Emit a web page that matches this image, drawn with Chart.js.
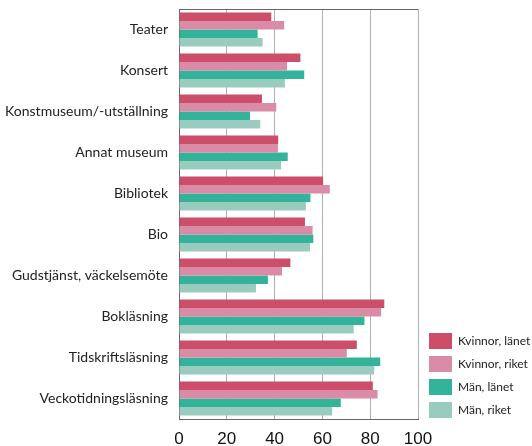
<!DOCTYPE html>
<html>
<head>
<meta charset="utf-8">
<script src="https://cdn.jsdelivr.net/npm/chart.js@4"></script>
<style>
  html, body { margin: 0; padding: 0; background: #fff; }
  #wrap { width: 532px; height: 446px; position: relative; }
</style>
</head>
<body>
<div id="wrap"><canvas id="chart"></canvas></div>
<script>
const categories = ['Teater', 'Konsert', 'Konstmuseum/-utställning', 'Annat museum', 'Bibliotek',
    'Bio', 'Gudstjänst, väckelsemöte', 'Bokläsning', 'Tidskriftsläsning', 'Veckotidningsläsning'];
const kvinnorLanet = [38.6, 50.8, 34.7, 41.5, 60.3, 52.7, 46.6, 85.9, 74.4, 81.1];
const kvinnorRiket = [44.0, 45.2, 40.7, 41.4, 63.1, 55.9, 43.1, 84.6, 70.2, 83.1];
const manLanet = [32.9, 52.4, 29.7, 45.5, 55.0, 56.2, 37.2, 77.6, 84.2, 67.7];
const manRiket = [35.0, 44.3, 34.0, 42.7, 53.1, 54.8, 32.2, 73.1, 81.7, 64.1];
const xTicks = [0, 20, 40, 60, 80, 100];

const topBorder = {
    id: 'topBorder',
    afterDraw(chart) {
        const { ctx, chartArea } = chart;
        ctx.save();
        ctx.strokeStyle = '#666';
        ctx.lineWidth = 1;
        ctx.beginPath();
        ctx.moveTo(chartArea.left, chartArea.top + 0.5);
        ctx.lineTo(chartArea.right, chartArea.top + 0.5);
        ctx.stroke();
        ctx.restore();
    }
};

// move legend so its last item sits just above the x axis
const legendShift = {
    id: 'legendShift',
    afterUpdate(chart) {
        if (chart.legend) {
            chart.legend.bottom = chart.chartArea.bottom + 6;
            chart.legend.left += 4;
        }
    }
};

const makeSet = (label, data, color) => ({
    label: label,
    data: data,
    backgroundColor: color,
    borderWidth: 0,
    barPercentage: 1,
    categoryPercentage: 0.83,
});

new Chart(document.getElementById('chart'), {
    type: 'bar',
    data: {
        labels: categories,
        datasets: [
            makeSet('Kvinnor, länet', kvinnorLanet, '#cc4e68'),
            makeSet('Kvinnor, riket', kvinnorRiket, '#da8ca6'),
            makeSet('Män, länet', manLanet, '#33b39a'),
            makeSet('Män, riket', manRiket, '#99ccbf'),
        ]
    },
    options: {
        indexAxis: 'y',
        responsive: true,
        maintainAspectRatio: false,
        animation: false,
        layout: { padding: { top: 9, left: 0, right: 0, bottom: 0 } },
        plugins: {
            legend: {
                position: 'right',
                align: 'end',
                maxWidth: 114,
                labels: {
                    boxWidth: 23,
                    boxHeight: 16,
                    padding: 7,
                    color: '#222',
                    font: { family: 'Lato', size: 12 }
                }
            },
            tooltip: { enabled: false }
        },
        scales: {
            x: {
                min: 0,
                max: 100,
                afterBuildTicks: (axis) => { axis.ticks = xTicks.map(v => ({ value: v })); },
                afterFit: (axis) => { axis.height = 27; },
                grid: { color: '#b0b0b0', lineWidth: 1, drawTicks: false },
                border: { color: '#666', width: 1 },
                ticks: {
                    color: '#111',
                    padding: 10,
                    font: { family: 'Liberation Sans', size: 17 }
                }
            },
            y: {
                afterFit: (axis) => {
                    axis.width = 179;
                    axis.paddingTop = 0;
                    axis.paddingBottom = 0;
                },
                grid: { display: false, drawTicks: false },
                border: { color: '#666', width: 1 },
                ticks: {
                    color: '#222',
                    padding: 11,
                    font: { family: 'Lato', size: 14 }
                }
            }
        }
    },
    plugins: [topBorder, legendShift]
});
</script>
</body>
</html>
